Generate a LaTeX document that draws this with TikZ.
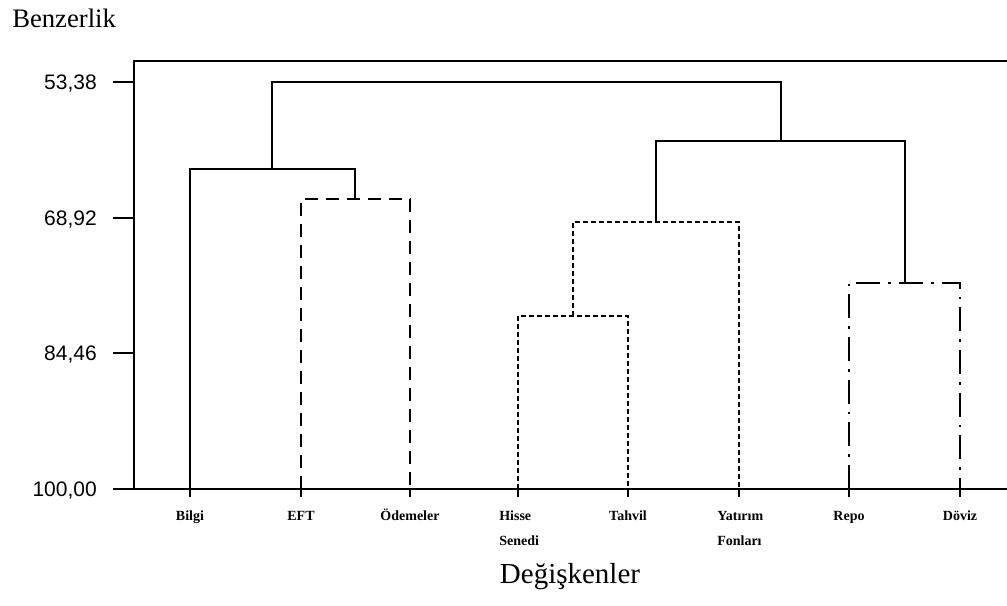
\documentclass[tikz,border=0pt]{standalone}
\usepackage{fontspec}
\setmainfont{Liberation Serif}
\newfontfamily\axisfont{Liberation Sans}
\begin{document}
\begin{tikzpicture}[x=0.75pt,y=-0.75pt,
  frameline/.style={line width=1.1pt},
  solidlink/.style={line width=1.5pt},
  longdash/.style={line width=1.6pt, dash pattern=on 9.75pt off 6pt},
  shortdash/.style={line width=2pt, dash pattern=on 3.75pt off 2.25pt},
  dashdot/.style={line width=1.8pt, dash pattern=on 18pt off 6pt on 2pt off 6pt},
  ticklabel/.style={font=\axisfont\fontsize{15.75}{18}\selectfont, anchor=east,
    inner sep=0pt, text depth=0pt},
  leaflabel/.style={font=\bfseries\fontsize{10.5}{14}\selectfont, anchor=base,
    inner sep=0pt},
  secondline/.style={leaflabel, anchor=base west},
  titlelabel/.style={font=\fontsize{20}{24}\selectfont, inner sep=0pt},
]
\useasboundingbox (0,0) rectangle (1007,606);

% axis titles
\node[titlelabel, anchor=west] (ytitle) at (12,18) {Benzerlik};
\node[titlelabel, font=\fontsize{21.75}{26}\selectfont] (xtitle) at (570,577) {Değişkenler};

% frame and axes
\coordinate (tl) at (134,61);
\coordinate (tr) at (1007,61);
\coordinate (bl) at (134,489);
\coordinate (br) at (1007,489);
\draw[frameline] (tr) -- (tl) -- (bl);
\draw[frameline] (113,489) -- (br);

% similarity ticks
\foreach \yy/\lab/\nm in {82/{53,38}/t1, 218/{68,92}/t2, 353/{84,46}/t3, 489/{100,00}/t4}{
  \draw[frameline] (113,\yy) -- (134,\yy);
  \node[ticklabel] (\nm) at (97,\yy) {\lab};
}

% leaves
\foreach \xx/\nm in {190/bilgi, 301/eft, 410/odeme, 518/hisse, 628/tahvil, 739/yatirim, 849/repo, 960/doviz}{
  \coordinate (\nm) at (\xx,489);
  \draw[frameline] (\xx,489) -- (\xx,497);
}
\node[leaflabel] (lbilgi)   at (190,520) {Bilgi};
\node[leaflabel] (left)     at (301,520) {EFT};
\node[leaflabel] (lodeme)   at (410,520) {Ödemeler};
\node[leaflabel, anchor=base west] (lhisse) at (499,520) {Hisse};
\node[secondline] (lhisse2) at ([yshift=-19]lhisse.base west) {Senedi};
\node[leaflabel] (ltahvil)  at (628,520) {Tahvil};
\node[leaflabel, anchor=base west] (lyatirim) at (717,520) {Yatırım};
\node[secondline] (lyatirim2) at ([yshift=-19]lyatirim.base west) {Fonları};
\node[leaflabel] (lrepo)    at (849,520) {Repo};
\node[leaflabel] (ldoviz)   at (960,520) {Döviz};

% EFT + Ödemeler
\draw[longdash] (eft) -- (301,199) -- (410,199) -- (odeme);
% Hisse Senedi + Tahvil
\draw[shortdash] (hisse) -- (518,316) -- (628,316) -- (tahvil);
% (Hisse Senedi, Tahvil) + Yatırım Fonları
\draw[shortdash] (573,316) -- (573,222) -- (739,222) -- (yatirim);
% Repo + Döviz
\draw[dashdot] (repo) -- (849,283) -- (960,283) -- (doviz);

% Bilgi + (EFT, Ödemeler)
\draw[solidlink] (bilgi) -- (190,169) -- (355,169) -- (355,199);
% (HS, T, YF) + (Repo, Döviz)
\draw[solidlink] (656,222) -- (656,141) -- (905,141) -- (905,283);
% top merge
\draw[solidlink] (272,169) -- (272,82) -- (781,82) -- (781,141);
\end{tikzpicture}
\end{document}
